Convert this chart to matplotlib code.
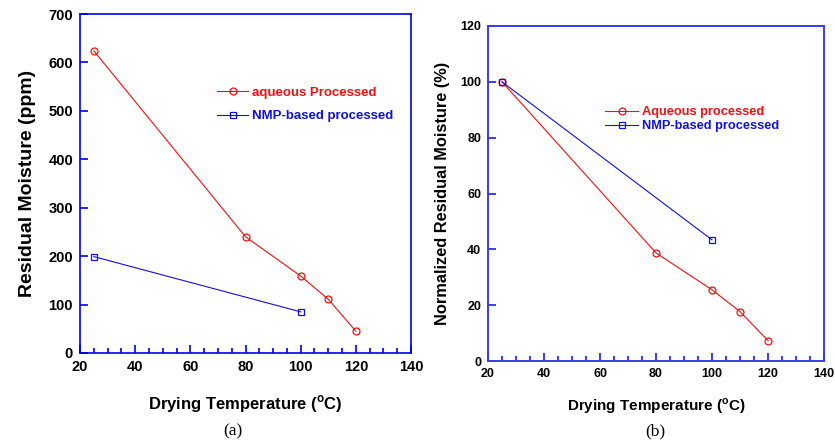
import matplotlib
matplotlib.use("Agg")
import matplotlib.pyplot as plt
from matplotlib.ticker import MultipleLocator

plt.rcParams['font.family'] = ['Liberation Sans', 'DejaVu Sans']
plt.rcParams['mathtext.fontset'] = 'custom'
plt.rcParams['mathtext.bf'] = 'Liberation Sans:bold'
plt.rcParams['mathtext.rm'] = 'Liberation Sans:bold'

# Panel (a): residual moisture (ppm)
temp_aq_a = [25, 80, 100, 110, 120]
moist_aq_a = [624, 240, 159, 111, 45]
temp_nmp_a = [25, 100]
moist_nmp_a = [199, 85]

# Panel (b): normalized residual moisture (%)
temp_aq_b = [25, 80, 100, 110, 120]
moist_aq_b = [100, 38.7, 25.5, 17.7, 7.3]
temp_nmp_b = [25, 100]
moist_nmp_b = [100, 43.4]

xticks = [20, 40, 60, 80, 100, 120, 140]
yticks_a = [0, 100, 200, 300, 400, 500, 600, 700]
yticks_b = [0, 20, 40, 60, 80, 100, 120]

RED = '#ee1111'
BLUE = '#1111dd'

fig = plt.figure(figsize=(8.35, 4.43), dpi=100)

def style_axes(ax, spine_color, lw, tick_size):
    for s in ax.spines.values():
        s.set_color(spine_color)
        s.set_linewidth(lw)
    ax.tick_params(axis='both', which='both', direction='in', color=spine_color,
                   top=False, right=False, labelsize=tick_size, pad=5)
    ax.tick_params(axis='both', which='major', length=6, width=lw)
    ax.tick_params(axis='x', which='minor', length=3.5, width=lw)
    for lab in ax.get_xticklabels() + ax.get_yticklabels():
        lab.set_fontweight('bold')

# ---------- (a) ----------
axa = fig.add_axes([80/835, 1-353/443, 331/835, 339/443])
axa.plot(temp_aq_a, moist_aq_a, color=RED, lw=0.8, marker='o', ms=5,
         mfc='none', mec=RED, mew=0.9, label='aqueous Processed')
axa.plot(temp_nmp_a, moist_nmp_a, color=BLUE, lw=0.8, marker='s', ms=5,
         mfc='none', mec=BLUE, mew=0.9, label='NMP-based processed')
axa.set_xlim(20, 140)
axa.set_ylim(0, 700)
axa.set_xticks(xticks)
axa.set_yticks(yticks_a)
axa.xaxis.set_minor_locator(MultipleLocator(5))
style_axes(axa, '#0000ee', 1.2, 10.5)
axa.set_xlabel('Drying Temperature ($^{\\mathbf{o}}$C)', fontsize=12, fontweight='bold', labelpad=14)
axa.set_ylabel('Residual Moisture (ppm)', fontsize=14, fontweight='bold', labelpad=9)
axa.legend(loc='upper left', bbox_to_anchor=(0.395, 0.805), frameon=False,
           labelcolor='linecolor', prop={'weight': 'bold', 'size': 9.5},
           handlelength=2.3, handletextpad=0.3, labelspacing=0.85, borderpad=0)

# ---------- (b) ----------
axb = fig.add_axes([488/835, 1-361/443, 336/835, 335/443])
axb.plot(temp_aq_b, moist_aq_b, color=RED, lw=0.8, marker='o', ms=5,
         mfc='none', mec=RED, mew=0.9, label='Aqueous processed')
axb.plot(temp_nmp_b, moist_nmp_b, color=BLUE, lw=0.8, marker='s', ms=5,
         mfc='none', mec=BLUE, mew=0.9, label='NMP-based processed')
axb.set_xlim(20, 140)
axb.set_ylim(0, 120)
axb.set_xticks(xticks)
axb.set_yticks(yticks_b)
axb.xaxis.set_minor_locator(MultipleLocator(5))
style_axes(axb, '#3b3bf0', 1.4, 9)
axb.set_xlabel('Drying Temperature ($^{\\mathbf{o}}$C)', fontsize=11, fontweight='bold', labelpad=12)
axb.set_ylabel('Normalized Residual Moisture (%)', fontsize=11.8, fontweight='bold', labelpad=7)
axb.legend(loc='upper left', bbox_to_anchor=(0.33, 0.78), frameon=False,
           labelcolor='linecolor', prop={'weight': 'bold', 'size': 9.2},
           handlelength=2.6, handletextpad=0.3, labelspacing=0.15, borderpad=0)

fig.text(233/835, 1-431/443, '(a)', family='Liberation Serif', fontsize=12.5, ha='center', va='center')
fig.text(655/835, 1-431/443, '(b)', family='Liberation Serif', fontsize=12.5, ha='center', va='center')

fig.savefig('out.png', dpi=100)
